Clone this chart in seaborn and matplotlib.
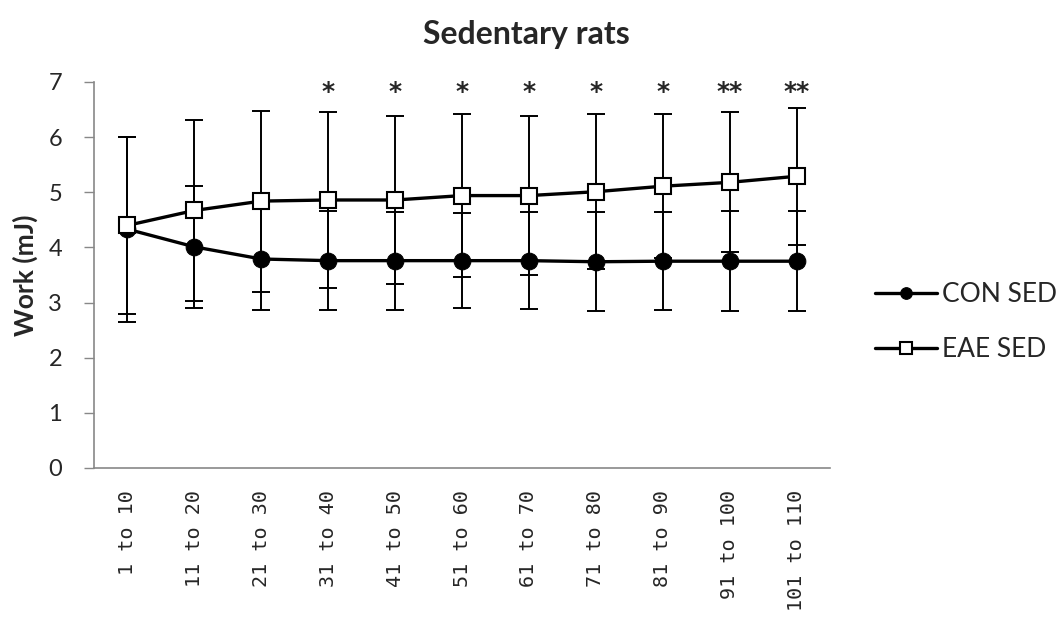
import numpy as np
import pandas as pd
import matplotlib
matplotlib.use("Agg")
import matplotlib.pyplot as plt
import seaborn as sns

sns.set_theme(style="white")
plt.rcParams['font.family'] = ['Lato', 'DejaVu Sans']

# bins of repetitions
bins = ["1 to 10", "11 to 20", "21 to 30", "31 to 40", "41 to 50", "51 to 60",
        "61 to 70", "71 to 80", "81 to 90", "91 to 100", "101 to 110"]

con_mean = [4.33, 4.01, 3.79, 3.76, 3.76, 3.76, 3.76, 3.74, 3.75, 3.75, 3.75]
con_sd = [1.68, 1.10, 0.93, 0.90, 0.89, 0.86, 0.88, 0.90, 0.89, 0.91, 0.91]
eae_mean = [4.40, 4.67, 4.84, 4.86, 4.86, 4.94, 4.94, 5.01, 5.11, 5.18, 5.29]
eae_sd = [1.60, 1.64, 1.64, 1.59, 1.52, 1.48, 1.44, 1.41, 1.31, 1.27, 1.24]
stars = ["", "", "", "*", "*", "*", "*", "*", "*", "**", "**"]

pos = np.arange(len(bins))
df = pd.DataFrame({"bin": bins, "pos": pos,
                   "con": con_mean, "con_sd": con_sd,
                   "eae": eae_mean, "eae_sd": eae_sd})

fig = plt.figure(figsize=(10.59, 6.22), dpi=100)
ax = fig.add_axes([0.0888, 0.2476, 0.695, 0.6206])

# error bars first
ax.errorbar(df["pos"], df["con"], yerr=df["con_sd"], fmt="none", ecolor="black",
            elinewidth=1.4, capsize=6.5, capthick=1.4, zorder=2)
ax.errorbar(df["pos"], df["eae"], yerr=df["eae_sd"], fmt="none", ecolor="black",
            elinewidth=1.4, capsize=6.5, capthick=1.4, zorder=2)

sns.lineplot(data=df, x="pos", y="con", ax=ax, color="black", lw=2.4,
             marker="o", markersize=12, markeredgecolor="black",
             markerfacecolor="black", label="CON SED", zorder=3)
sns.lineplot(data=df, x="pos", y="eae", ax=ax, color="black", lw=2.4,
             marker="s", markersize=11.5, markeredgecolor="black",
             markerfacecolor="white", markeredgewidth=1.5,
             label="EAE SED", zorder=4)

for x, s in zip(pos, stars):
    if s:
        ax.text(x, 6.82, s, ha="center", va="center", fontsize=18,
                family="DejaVu Sans", fontweight="bold", clip_on=False)

ax.set_xlim(-0.5, len(bins) - 0.5)
ax.set_ylim(0, 7)
ax.set_yticks(range(0, 8))
ax.set_xticks(pos)
ax.set_xticklabels(bins, rotation=90, family="DejaVu Sans Mono", fontsize=14.5)
ax.tick_params(axis="x", length=0, pad=16)
ax.tick_params(axis="y", length=7, width=1, color="#888888", direction="out",
               labelsize=17, pad=16, left=True)
ax.set_xlabel("")
ax.set_ylabel("Work (mJ)", fontsize=19, fontweight="bold", labelpad=7)

sns.despine(ax=ax)
for sp in ["left", "bottom"]:
    ax.spines[sp].set_color("#888888")
    ax.spines[sp].set_linewidth(1.2)

fig.text(0.497, 0.945, "Sedentary rats", ha="center", va="center",
         fontsize=23, fontweight="bold")

ax.legend(loc="center left", bbox_to_anchor=(0.826, 0.482),
          bbox_transform=fig.transFigure, frameon=False, fontsize=19,
          handlelength=2.35, handletextpad=0.2, labelspacing=1.15,
          markerscale=0.7, borderpad=0, borderaxespad=0)

fig.savefig("out.png", dpi=100)
